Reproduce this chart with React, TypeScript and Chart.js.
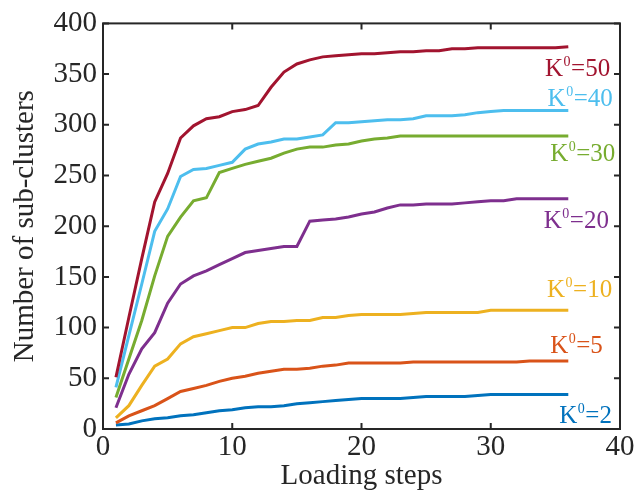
import React, { useEffect, useRef } from "react";
import { Chart, registerables } from "chart.js";

Chart.register(...registerables);

const FONT = "'Liberation Serif', 'Times New Roman', serif";
const AXIS_COLOR = "#262626";

const steps = [
  1, 2, 3, 4, 5, 6, 7, 8, 9, 10, 11, 12, 13, 14, 15, 16, 17, 18,
  19, 20, 21, 22, 23, 24, 25, 26, 27, 28, 29, 30, 31, 32, 33, 34, 35, 36,
];

const k50 = [51, 110, 168, 224, 252, 287, 299, 306, 308, 313, 315, 319, 337, 352, 360, 364, 367, 368, 369, 370, 370, 371, 372, 372, 373, 373, 375, 375, 376, 376, 376, 376, 376, 376, 376, 377];
const k40 = [41, 92, 143, 195, 217, 249, 256, 257, 260, 263, 276, 281, 283, 286, 286, 288, 290, 302, 302, 303, 304, 305, 305, 306, 309, 309, 309, 310, 312, 313, 314, 314, 314, 314, 314, 314];
const k30 = [31, 69, 107, 151, 190, 209, 225, 228, 253, 257, 261, 264, 267, 272, 276, 278, 278, 280, 281, 284, 286, 287, 289, 289, 289, 289, 289, 289, 289, 289, 289, 289, 289, 289, 289, 289];
const k20 = [21, 54, 79, 95, 124, 143, 151, 156, 162, 168, 174, 176, 178, 180, 180, 205, 206, 207, 209, 212, 214, 218, 221, 221, 222, 222, 222, 223, 224, 225, 225, 227, 227, 227, 227, 227];
const k10 = [11, 23, 43, 62, 69, 84, 91, 94, 97, 100, 100, 104, 106, 106, 107, 107, 110, 110, 112, 113, 113, 113, 113, 114, 115, 115, 115, 115, 115, 117, 117, 117, 117, 117, 117, 117];
const k5 = [6, 13, 18, 23, 30, 37, 40, 43, 47, 50, 52, 55, 57, 59, 59, 60, 62, 63, 65, 65, 65, 65, 65, 66, 66, 66, 66, 66, 66, 66, 66, 66, 67, 67, 67, 67];
const k2 = [4, 5, 8, 10, 11, 13, 14, 16, 18, 19, 21, 22, 22, 23, 25, 26, 27, 28, 29, 30, 30, 30, 30, 31, 32, 32, 32, 32, 33, 34, 34, 34, 34, 34, 34, 34];

const kValues = ["50", "40", "30", "20", "10", "5", "2"];
const seriesData = [k50, k40, k30, k20, k10, k5, k2];
const seriesColors = ["#A2142F", "#4DBEEE", "#77AC30", "#7E2F8E", "#EDB120", "#D95319", "#0072BD"];

// label anchors (left edge in step units, baseline in value units)
const labelX = [34.2, 34.4, 34.6, 34.1, 34.35, 34.6, 35.3];
const labelY = [348, 319, 264, 198, 130, 75, 6];

const xTicks = [0, 10, 20, 30, 40];
const yTicks = [0, 50, 100, 150, 200, 250, 300, 350, 400];

const framePlugin = {
  id: "frameAndLabels",
  afterDraw(chart: any) {
    const { ctx, chartArea } = chart;
    const { left, right, top, bottom } = chartArea;
    const xs = chart.scales.x;
    const ys = chart.scales.y;
    ctx.save();
    ctx.strokeStyle = AXIS_COLOR;
    ctx.lineWidth = 2;
    ctx.strokeRect(left, top, right - left, bottom - top);
    const tl = 6;
    ctx.beginPath();
    xTicks.forEach((t) => {
      const px = xs.getPixelForValue(t);
      ctx.moveTo(px, bottom);
      ctx.lineTo(px, bottom - tl);
      ctx.moveTo(px, top);
      ctx.lineTo(px, top + tl);
    });
    yTicks.forEach((t) => {
      const py = ys.getPixelForValue(t);
      ctx.moveTo(left, py);
      ctx.lineTo(left + tl, py);
      ctx.moveTo(right, py);
      ctx.lineTo(right - tl, py);
    });
    ctx.stroke();

    ctx.textBaseline = "alphabetic";
    ctx.textAlign = "left";
    kValues.forEach((k, i) => {
      const x = xs.getPixelForValue(labelX[i]);
      const base = ys.getPixelForValue(labelY[i]);
      ctx.fillStyle = seriesColors[i];
      ctx.font = `25px ${FONT}`;
      ctx.fillText("K", x, base);
      const wK = ctx.measureText("K").width;
      ctx.font = `14px ${FONT}`;
      ctx.fillText("0", x + wK + 0.5, base - 10);
      const w0 = ctx.measureText("0").width;
      ctx.font = `25px ${FONT}`;
      ctx.fillText("=" + k, x + wK + w0 + 1, base);
    });
    ctx.restore();
  },
};

export default function App() {
  const canvasRef = useRef<HTMLCanvasElement | null>(null);

  useEffect(() => {
    const canvas = canvasRef.current;
    if (!canvas) return;
    const chart = new Chart(canvas, {
      type: "line",
      data: {
        datasets: kValues.map((k, i) => ({
          label: "K0=" + k,
          data: steps.map((s, j) => ({ x: s, y: seriesData[i][j] })),
          borderColor: seriesColors[i],
          backgroundColor: seriesColors[i],
          borderWidth: 3,
          pointRadius: 0,
          tension: 0,
          fill: false,
        })),
      },
      options: {
        animation: false,
        responsive: true,
        maintainAspectRatio: false,
        layout: { padding: { top: 21, right: 19, left: 0, bottom: 0 } },
        plugins: {
          legend: { display: false },
          tooltip: { enabled: false },
        },
        scales: {
          x: {
            type: "linear",
            min: 0,
            max: 40,
            ticks: {
              stepSize: 10,
              color: AXIS_COLOR,
              font: { family: FONT, size: 29 },
              padding: 1,
              maxRotation: 0,
            },
            grid: { display: false, drawTicks: false },
            border: { display: false },
            title: {
              display: true,
              text: "Loading steps",
              color: AXIS_COLOR,
              font: { family: FONT, size: 29 },
              padding: { top: 4, bottom: 0 },
            },
            afterFit: (s: any) => {
              s.height = 65;
            },
          },
          y: {
            type: "linear",
            min: 0,
            max: 400,
            ticks: {
              stepSize: 50,
              color: AXIS_COLOR,
              font: { family: FONT, size: 29 },
              padding: 6,
            },
            grid: { display: false, drawTicks: false },
            border: { display: false },
            title: {
              display: true,
              text: "Number of sub-clusters",
              color: AXIS_COLOR,
              font: { family: FONT, size: 29 },
              padding: { top: 8, bottom: 0 },
            },
            afterFit: (s: any) => {
              s.width = 103;
            },
          },
        },
      },
      plugins: [framePlugin],
    });
    return () => chart.destroy();
  }, []);

  return (
    <div style={{ position: "absolute", left: 0, top: 0, width: 639, height: 494, background: "#fff" }}>
      <canvas ref={canvasRef} />
    </div>
  );
}
